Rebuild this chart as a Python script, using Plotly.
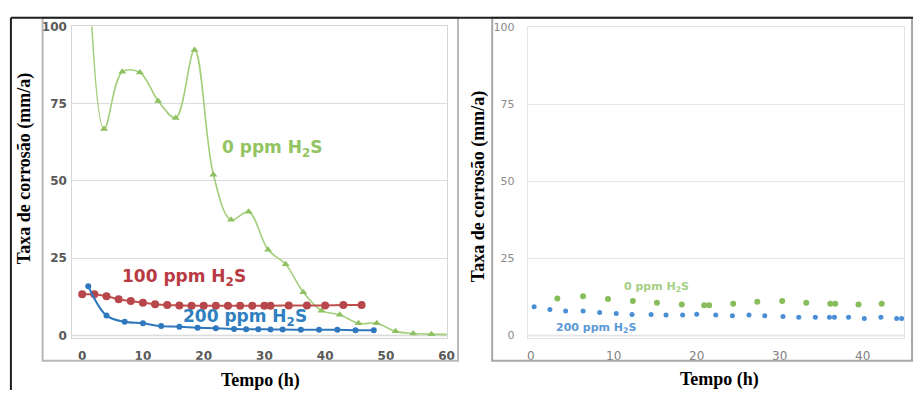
import plotly.graph_objects as go

# ---------------- data ----------------
# Left panel
left_0ppm_x = [1.0, 3.6, 6.6, 9.5, 12.5, 15.4, 18.5, 21.6, 24.5, 27.4, 30.6, 33.5, 36.4, 39.4, 42.4, 45.5, 48.5, 51.6, 54.5, 57.5, 60.8]
left_0ppm_y = [125, 66.8, 85.3, 85.1, 75.9, 70.4, 92.4, 52.0, 37.4, 40.0, 27.7, 23.0, 14.0, 8.0, 6.7, 3.9, 3.9, 1.3, 0.6, 0.4, 0.3]

left_100ppm_x = [0, 2, 4, 6, 8, 10, 12, 14, 16, 18, 20, 22, 24, 26, 28, 30, 31, 34, 37, 40, 43, 46]
left_100ppm_y = [13.3, 13.3, 12.7, 11.7, 11.1, 10.6, 10.1, 9.8, 9.7, 9.6, 9.6, 9.6, 9.6, 9.6, 9.6, 9.6, 9.6, 9.7, 9.7, 9.7, 9.8, 9.8]

left_200ppm_x = [1, 4, 7, 10, 13, 16, 19, 22, 25, 27, 29, 31, 33, 36, 39, 42, 45, 48]
left_200ppm_y = [15.9, 6.4, 4.4, 3.9, 3.0, 2.8, 2.5, 2.3, 2.1, 2.0, 2.0, 1.9, 1.9, 1.8, 1.8, 1.8, 1.7, 1.7]

# Right panel
right_0ppm_x = [3.2, 6.3, 9.3, 12.3, 15.2, 18.2, 20.9, 21.5, 24.4, 27.3, 30.3, 33.2, 36.1, 36.7, 39.5, 42.3]
right_0ppm_y = [12.0, 12.7, 11.8, 11.2, 10.6, 10.0, 9.8, 9.8, 10.3, 10.9, 11.2, 10.6, 10.3, 10.3, 10.0, 10.3]

right_200ppm_x = [0.4, 2.3, 4.2, 6.3, 8.3, 10.3, 12.2, 14.5, 16.3, 18.3, 20.0, 22.3, 24.3, 26.3, 28.2, 30.4, 32.3, 34.3, 36.0, 36.6, 38.3, 40.2, 42.2, 44.1, 44.7]
right_200ppm_y = [9.3, 8.4, 7.9, 7.9, 7.4, 7.1, 6.8, 6.8, 6.6, 6.6, 6.9, 6.6, 6.4, 6.6, 6.4, 6.1, 5.9, 5.9, 5.9, 5.9, 5.9, 5.5, 5.9, 5.5, 5.5]

y_ticks = [0, 25, 50, 75, 100]
left_x_ticks = [0, 10, 20, 30, 40, 50, 60]
right_x_ticks = [0, 10, 20, 30, 40]

y_title = "Taxa de corrosão (mm/a)"
x_title = "Tempo (h)"

# ---------------- figure ----------------
W, H = 924, 394


def px(x):
    return x / W


def py(y):
    return 1 - y / H


GREEN_L = "#8fc162"
GREEN_LINE = "#a3cf7a"
RED = "#b8474b"
BLUE = "#2f78bd"
GREEN_R = "#88bd5c"
BLUE_R = "#4a8fd6"

fig = go.Figure()

fig.add_trace(go.Scatter(x=left_0ppm_x, y=left_0ppm_y, mode="lines+markers",
                         line=dict(color=GREEN_LINE, width=1.6, shape="spline", smoothing=1),
                         marker=dict(symbol="triangle-up", size=7, color=GREEN_L),
                         xaxis="x", yaxis="y", showlegend=False))
fig.add_trace(go.Scatter(x=left_100ppm_x, y=left_100ppm_y, mode="lines+markers",
                         line=dict(color="#c0504d", width=2, shape="spline", smoothing=1),
                         marker=dict(symbol="circle", size=8, color=RED),
                         xaxis="x", yaxis="y", showlegend=False))
fig.add_trace(go.Scatter(x=left_200ppm_x, y=left_200ppm_y, mode="lines+markers",
                         line=dict(color=BLUE, width=2, shape="spline", smoothing=1),
                         marker=dict(symbol="circle", size=6, color=BLUE),
                         xaxis="x", yaxis="y", showlegend=False))

fig.add_trace(go.Scatter(x=right_0ppm_x, y=right_0ppm_y, mode="markers",
                         marker=dict(symbol="circle", size=6, color=GREEN_R),
                         xaxis="x2", yaxis="y2", showlegend=False))
fig.add_trace(go.Scatter(x=right_200ppm_x, y=right_200ppm_y, mode="markers",
                         marker=dict(symbol="circle", size=5, color=BLUE_R),
                         xaxis="x2", yaxis="y2", showlegend=False))

grid = "#dcdcdc"
box = "#d6d6d6"

fig.update_layout(
    width=W, height=H,
    margin=dict(l=0, r=0, t=0, b=0),
    paper_bgcolor="white", plot_bgcolor="white",
    xaxis=dict(domain=[px(72), px(450)], range=[-1.63, 60], tickvals=left_x_ticks,
               showgrid=False, zeroline=False, showline=True, mirror=True, linecolor=box,
               ticks="outside", ticklen=6, tickcolor="rgba(0,0,0,0)",
               tickfont=dict(family="DejaVu Sans", size=12, color="#595959", weight="bold"),
               anchor="y"),
    yaxis=dict(domain=[py(341), py(20)], range=[-1, 100], tickvals=y_ticks,
               showgrid=True, gridcolor=grid, zeroline=False, showline=True, mirror=True, linecolor=box,
               ticks="outside", ticklen=2, tickcolor="rgba(0,0,0,0)",
               tickfont=dict(family="DejaVu Sans", size=12, color="#595959", weight="bold"),
               anchor="x"),
    xaxis2=dict(domain=[px(532), px(912)], range=[-0.36, 45.0], tickvals=right_x_ticks,
                showgrid=False, zeroline=False, showline=True, mirror=True, linecolor="#e4e4e4",
                ticks="outside", ticklen=6, tickcolor="rgba(0,0,0,0)",
                tickfont=dict(family="DejaVu Sans", size=12, color="#7f7f7f"),
                anchor="y2"),
    yaxis2=dict(domain=[py(341), py(21)], range=[-1, 100], tickvals=y_ticks,
                showgrid=True, gridcolor="#e6e6e6", zeroline=False, showline=True, mirror=True, linecolor="#e4e4e4",
                ticks="outside", ticklen=10, tickcolor="rgba(0,0,0,0)",
                tickfont=dict(family="DejaVu Sans", size=11, color="#8a8a8a"),
                anchor="x2"),
)

# zero lines (horizontal axis at y=0)
for xr, yr, col in [("x", "y", "#cfcfcf"), ("x2", "y2", "#d9d9d9")]:
    fig.add_shape(type="line", xref=f"{xr} domain", yref=yr, x0=0, x1=1, y0=0, y1=0,
                  line=dict(color=col, width=1.5), layer="below")

# frames
frames = [
    dict(x0=px(42), x1=px(461.5), y0=py(364), y1=py(11), color="#b8b8b8", width=2),
    dict(x0=px(496), x1=px(920), y0=py(364), y1=py(11), color="#a8a8a8", width=2),
]
for f in frames:
    fig.add_shape(type="rect", xref="paper", yref="paper", x0=f["x0"], x1=f["x1"], y0=f["y0"], y1=f["y1"],
                  line=dict(color=f["color"], width=f["width"]), fillcolor="rgba(0,0,0,0)")
# outer black border (top and left)
fig.add_shape(type="line", xref="paper", yref="paper", x0=px(10), x1=px(921), y0=py(11), y1=py(11),
              line=dict(color="#1e1e1e", width=2))
fig.add_shape(type="line", xref="paper", yref="paper", x0=px(10), x1=px(10), y0=py(11), y1=0,
              line=dict(color="#1e1e1e", width=2))

# axis titles
title_font = dict(family="Liberation Serif", size=18, color="black")
for cx, cy in [(24, 166), (483, 185)]:
    fig.add_annotation(text=f"<b>{y_title}</b>", xref="paper", yref="paper", x=px(cx), y=py(cy),
                       textangle=-90, showarrow=False, font=title_font, xanchor="center", yanchor="middle")
for cx, cy in [(262, 384), (726, 383)]:
    fig.add_annotation(text=f"<b>{x_title}</b>", xref="paper", yref="paper", x=px(cx), y=py(cy),
                       showarrow=False, font=title_font, xanchor="center", yanchor="middle")

# series labels
lab = dict(family="DejaVu Sans", size=17)
fig.add_annotation(text="<b>0 ppm H<sub>2</sub>S</b>", xref="x", yref="y", x=31.2, y=60.4,
                   showarrow=False, font=dict(**lab, color="#92c462"))
fig.add_annotation(text="<b>100 ppm H<sub>2</sub>S</b>", xref="x", yref="y", x=16.8, y=18.6,
                   showarrow=False, font=dict(**lab, color="#b83a42"))
fig.add_annotation(text="<b>200 ppm H<sub>2</sub>S</b>", xref="x", yref="y", x=26.8, y=5.7,
                   showarrow=False, font=dict(**lab, color="#2f7fc1"))

labr = dict(family="DejaVu Sans", size=11)
fig.add_annotation(text="<b>0 ppm H<sub>2</sub>S</b>", xref="x2", yref="y2", x=15.2, y=15.8,
                   showarrow=False, font=dict(**labr, color="#a5cf85"))
fig.add_annotation(text="<b>200 ppm H<sub>2</sub>S</b>", xref="x2", yref="y2", x=7.9, y=2.5,
                   showarrow=False, font=dict(**labr, color="#5b9ad8"))

fig.write_html("out.html")
